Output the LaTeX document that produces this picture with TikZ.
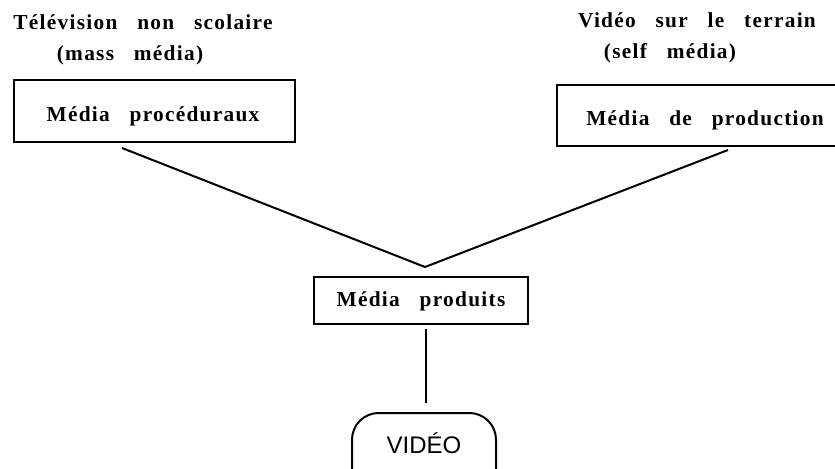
\documentclass[tikz,border=0pt]{standalone}
\usepackage{fontspec}
\setmainfont[LetterSpace=6,WordSpace={3}]{Liberation Serif}
\newfontfamily\vidfont{Liberation Sans}
\begin{document}
\begin{tikzpicture}[x=0.75pt,y=-0.75pt,
  lbl/.style={font=\fontsize{16}{19}\selectfont\bfseries, inner sep=0pt},
  boxed/.style={draw, line width=1.5pt, inner sep=0pt},
  conn/.style={line width=1.5pt}]
\useasboundingbox (0,0) rectangle (835,468);
\clip (0,0) rectangle (835,468);
% top labels
\node[lbl] (t1) at (143,22) {Télévision non scolaire};
\node[lbl] (t2) at (130,55) {(mass média)};
\node[lbl] (t3) at (697,20) {Vidéo sur le terrain};
\node[lbl] (t4) at (670,53) {(self média)};
% boxes
\node[boxed, minimum width=210.75pt, minimum height=46.5pt] (lb) at (154.5,111) {};
\node[lbl] (lbt) at (153,116) {Média procéduraux};
\node[boxed, minimum width=210pt, minimum height=45.75pt] (rb) at (697,115.5) {};
\node[lbl] (rbt) at (705,120) {Média de production};
\node[boxed, minimum width=160.5pt, minimum height=35.25pt] (mb) at (421,300.5) {};
\node[lbl] (mbt) at (421,301) {Média produits};
\draw[line width=1.5pt, rounded corners=20pt] (352,490) -- (352,413) -- (496,413) -- (496,490);
\node[font=\vidfont\fontsize{18}{21}\selectfont, inner sep=0pt] (vid) at (424,443) {VIDÉO};
% connectors
\coordinate (v) at (425,267);
\coordinate (ls) at (122,148);
\coordinate (rs) at (728,150);
\coordinate (ms) at (426,329);
\coordinate (vt) at (426,403);
\draw[conn] (ls) -- (v) -- (rs);
\draw[conn] (ms) -- (vt);
\end{tikzpicture}
\end{document}
